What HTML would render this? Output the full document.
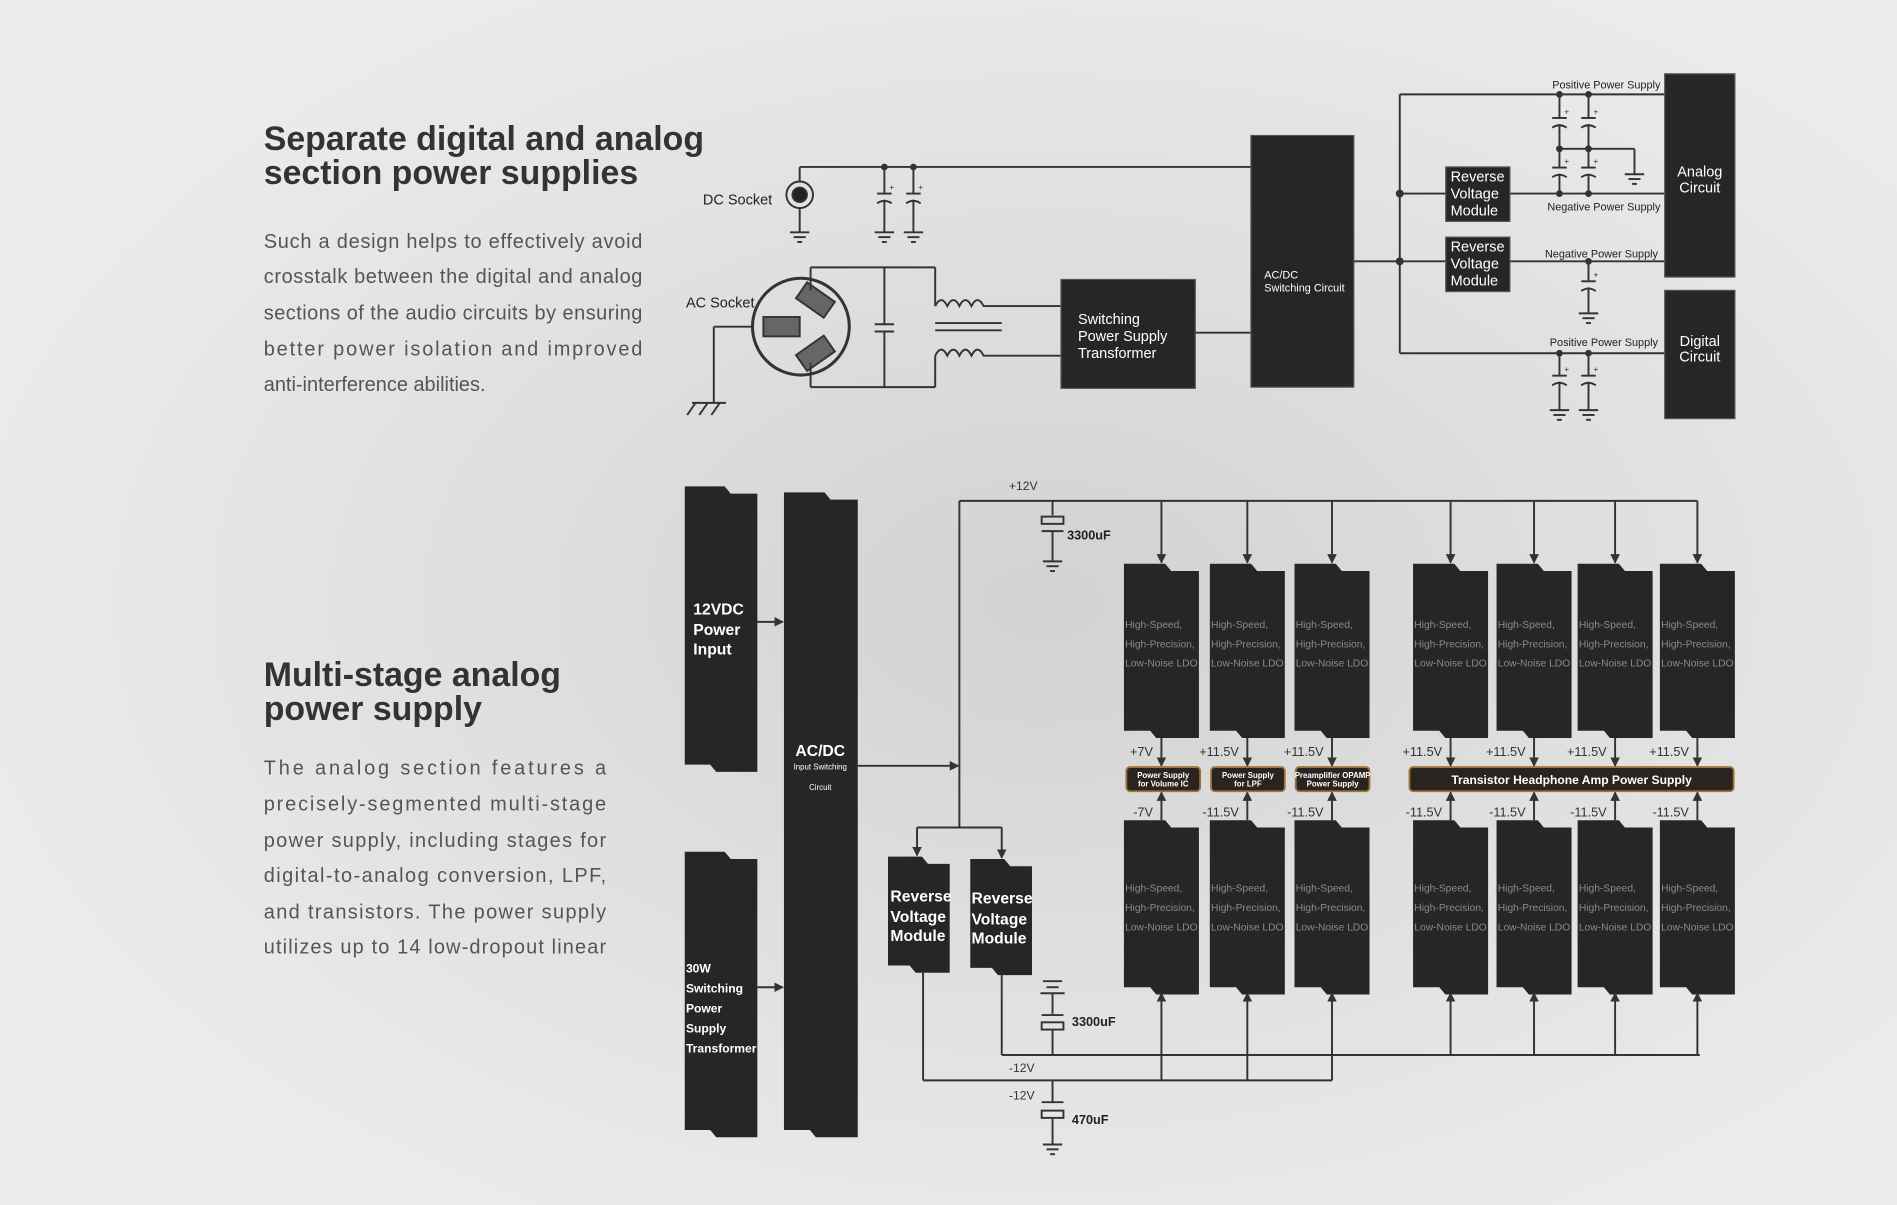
<!DOCTYPE html>
<html><head><meta charset="utf-8"><style>
html,body{margin:0;padding:0;width:1897px;height:1205px;overflow:hidden;background:#e9e9e9;}
svg{display:block}
</style></head><body>
<svg id="s" width="1897" height="1205" viewBox="0 0 1568 996" xmlns="http://www.w3.org/2000/svg" font-family="Liberation Sans, sans-serif">
<defs>
<radialGradient id="bg" cx="0.55" cy="0.5" r="0.6">
<stop offset="0" stop-color="#d2d2d2"/><stop offset="0.6" stop-color="#e2e2e2"/><stop offset="1" stop-color="#ececec"/>
</radialGradient>
<marker id="ar" markerWidth="8" markerHeight="8" refX="7" refY="4" orient="auto" markerUnits="userSpaceOnUse"><path d="M0,0L8,4L0,8z" fill="#333"/></marker>
</defs>
<rect width="1568" height="996" fill="url(#bg)"/>
<g fill="#333" font-weight="bold">
<text x="218" y="124" font-size="28">Separate digital and analog</text>
<text x="218" y="152" font-size="28">section power supplies</text>
<text x="218" y="567" font-size="28">Multi-stage analog</text>
<text x="218" y="595" font-size="28">power supply</text>
</g>
<g fill="#555" font-size="16.5">
<text x="218" y="205" textLength="313">Such a design helps to effectively avoid</text>
<text x="218" y="234" textLength="313">crosstalk between the digital and analog</text>
<text x="218" y="264" textLength="313">sections of the audio circuits by ensuring</text>
<text x="218" y="294" textLength="313">better power isolation and improved</text>
<text x="218" y="323">anti-interference abilities.</text>
<text x="218" y="640" textLength="283">The analog section features a</text>
<text x="218" y="670" textLength="283">precisely-segmented multi-stage</text>
<text x="218" y="700" textLength="283">power supply, including stages for</text>
<text x="218" y="729" textLength="283">digital-to-analog conversion, LPF,</text>
<text x="218" y="759" textLength="283">and transistors. The power supply</text>
<text x="218" y="788" textLength="283">utilizes up to 14 low-dropout linear</text>
</g>
<g id="top" stroke="#333" stroke-width="1.6" fill="none"></g>
<g id="bot" stroke="#333" stroke-width="1.6" fill="none"></g>
<g id="tx"></g>
</svg>
<script>
var T=document.getElementById('top'),B=document.getElementById('bot'),X=document.getElementById('tx');
function L(g,s){g.insertAdjacentHTML('beforeend',s);}
function ln(g,x1,y1,x2,y2,a){L(g,'<line x1="'+x1+'" y1="'+y1+'" x2="'+x2+'" y2="'+y2+'"'+(a?' marker-end="url(#ar)"':'')+'/>');}
function rect(g,x,y,w,h){L(g,'<rect x="'+x+'" y="'+y+'" width="'+w+'" height="'+h+'" fill="#262626" stroke="#555" stroke-width="1"/>');}
function nb(x,y,w,h){var a=x+w*0.55,b=x+w*0.35;L(B,'<path d="M'+x+','+y+'L'+a+','+y+'L'+(a+5)+','+(y+6)+'L'+(x+w)+','+(y+6)+'L'+(x+w)+','+(y+h)+'L'+(b+5)+','+(y+h)+'L'+b+','+(y+h-6)+'L'+x+','+(y+h-6)+'Z" fill="#262626" stroke="none"/>');}
function t(x,y,s,sz,c,w,anc){L(X,'<text x="'+x+'" y="'+y+'" font-size="'+sz+'" fill="'+(c||'#222')+'"'+(w?' font-weight="bold"':'')+(anc?' text-anchor="'+anc+'"':'')+'>'+s+'</text>');}
function gnd(g,x,y){ln(g,x,y,x,y+4);ln(g,x-8,y+4,x+8,y+4);ln(g,x-5,y+8,x+5,y+8);ln(g,x-2,y+12,x+2,y+12);}
function cap(g,x,y1,y2){var m=(y1+y2)/2;ln(g,x,y1,x,m-3);ln(g,x-6,m-3,x+6,m-3);L(g,'<path d="M'+(x-6)+','+(m+5)+'Q'+x+','+(m+1)+' '+(x+6)+','+(m+5)+'"/>');ln(g,x,m+2,x,y2);t(x+4,m-6,'+',7,'#333');}
// TOP DIAGRAM
ln(T,661,150,661,138);ln(T,661,138,1034,138);
L(T,'<circle cx="661" cy="161" r="11"/><circle cx="661" cy="161" r="6" fill="#222"/>');
ln(T,661,172,661,188);gnd(T,661,188);
[731,755].forEach(function(x){L(T,'<circle cx="'+x+'" cy="138" r="2" fill="#333"/>');cap(T,x,138,188);gnd(T,x,188);});
t(581,169,'DC Socket',12);t(567,254,'AC Socket',12);
L(T,'<circle cx="662" cy="270" r="40" stroke-width="2.5"/>');
L(T,'<rect x="631" y="262" width="30" height="16" fill="#666" stroke="#333"/>');
L(T,'<rect x="660" y="240" width="28" height="16" fill="#666" stroke="#333" transform="rotate(35 674 248)"/>');
L(T,'<rect x="660" y="284" width="28" height="16" fill="#666" stroke="#333" transform="rotate(-35 674 292)"/>');
ln(T,622,270,590,270);ln(T,590,270,590,333);ln(T,572,333,600,333);
[575,585,595].forEach(function(x){ln(T,x,333,x-7,343);});
ln(T,670,221,773,221);ln(T,670,320,773,320);ln(T,670,221,670,240);ln(T,670,300,670,320);
ln(T,731,221,731,268);ln(T,723,268,739,268);ln(T,723,274,739,274);ln(T,731,274,731,320);
ln(T,773,221,773,253);ln(T,773,320,773,294);
L(T,'<path d="M773,253 q5,-10 10,0 q5,-10 10,0 q5,-10 10,0 q5,-10 10,0 L828,253 L877,253"/>');
L(T,'<path d="M773,294 q5,-10 10,0 q5,-10 10,0 q5,-10 10,0 q5,-10 10,0 L828,294 L877,294"/>');
ln(T,773,267,828,267);ln(T,773,273,828,273);
rect(T,877,231,111,90);t(891,268,'Switching',12,'#fff');t(891,282,'Power Supply',12,'#fff');t(891,296,'Transformer',12,'#fff');
ln(T,988,275,1034,275);
rect(T,1034,112,85,208);t(1045,230,'AC/DC',9,'#fff');t(1045,241,'Switching Circuit',9,'#fff');
ln(T,1119,216,1157,216);ln(T,1157,78,1157,292);
L(T,'<circle cx="1157" cy="160" r="2.5" fill="#333"/><circle cx="1157" cy="216" r="2.5" fill="#333"/>');
ln(T,1157,78,1376,78);ln(T,1157,160,1195,160);ln(T,1248,160,1376,160);ln(T,1157,216,1195,216);ln(T,1248,216,1376,216);ln(T,1157,292,1376,292);
rect(T,1195,138,53,45);rect(T,1195,196,53,45);
[[1195,138],[1195,196]].forEach(function(p){t(p[0]+4,p[1]+12,'Reverse',12,'#fff');t(p[0]+4,p[1]+26,'Voltage',12,'#fff');t(p[0]+4,p[1]+40,'Module',12,'#fff');});
[1289,1313].forEach(function(x){cap(T,x,78,123);cap(T,x,123,160);L(T,'<circle cx="'+x+'" cy="78" r="2" fill="#333"/><circle cx="'+x+'" cy="160" r="2" fill="#333"/><circle cx="'+x+'" cy="123" r="2" fill="#333"/>');cap(T,x,292,335);gnd(T,x,335);L(T,'<circle cx="'+x+'" cy="292" r="2" fill="#333"/>');});
ln(T,1289,123,1351,123);ln(T,1351,123,1351,140);gnd(T,1351,140);
cap(T,1313,216,255);gnd(T,1313,255);L(T,'<circle cx="1313" cy="216" r="2" fill="#333"/>');
t(1283,73,'Positive Power Supply',9);t(1279,174,'Negative Power Supply',9);t(1277,213,'Negative Power Supply',9);t(1281,286,'Positive Power Supply',9);
rect(T,1376,61,58,168);rect(T,1376,240,58,106);
t(1405,146,'Analog',12,'#fff',0,'middle');t(1405,159,'Circuit',12,'#fff',0,'middle');
t(1405,286,'Digital',12,'#fff',0,'middle');t(1405,299,'Circuit',12,'#fff',0,'middle');
// BOTTOM DIAGRAM
nb(566,402,60,236);nb(566,704,60,236);nb(648,407,61,533);
t(573,508,'12VDC',13,'#fff',1);t(573,525,'Power',13,'#fff',1);t(573,541,'Input',13,'#fff',1);
['30W','Switching','Power','Supply','Transformer'].forEach(function(s,i){t(567,804+i*16.5,s,10,'#fff',1);});
t(678,625,'AC/DC',13,'#fff',1,'middle');t(678,636,'Input Switching',6.5,'#fff',0,'middle');t(678,653,'Circuit',6.5,'#fff',0,'middle');
ln(B,626,514,647,514,1);ln(B,626,816,647,816,1);ln(B,709,633,792,633,1);
ln(B,793,414,793,684);ln(B,793,414,1403,414);t(834,405,'+12V',10,'#333');
ln(B,870,414,870,426);L(B,'<rect x="861" y="427" width="18" height="6" fill="none"/>');ln(B,861,439,879,439);ln(B,870,439,870,460);gnd(B,870,460);t(882,446,'3300uF',10.5,'#222',1);
ln(B,758,684,828,684);ln(B,758,684,758,707,1);ln(B,828,684,828,709,1);
nb(734,708,51,96);nb(802,710,51,96);
t(736,745,'Reverse',13,'#fff',1);t(736,762,'Voltage',13,'#fff',1);t(736,778,'Module',13,'#fff',1);
t(803,747,'Reverse',13,'#fff',1);t(803,764,'Voltage',13,'#fff',1);t(803,780,'Module',13,'#fff',1);
var cols=[960,1031,1101,1199,1268,1335,1403];
var up=['+7V','+11.5V','+11.5V','+11.5V','+11.5V','+11.5V','+11.5V'],dn=['-7V','-11.5V','-11.5V','-11.5V','-11.5V','-11.5V','-11.5V'];
cols.forEach(function(c,i){var x=c-31;
ln(B,c,414,c,465,1);nb(x,466,62,144);nb(x,678,62,144);
[['High-Speed,',516],['High-Precision,',532],['Low-Noise LDO',548]].forEach(function(r){t(x+1,r[1]+3,r[0],8.5,'#8a8a8a');});
[['High-Speed,',734],['High-Precision,',750],['Low-Noise LDO',766]].forEach(function(r){t(x+1,r[1]+3,r[0],8.5,'#8a8a8a');});
ln(B,c,610,c,633,1);ln(B,c,678,c,655,1);
t(c-7,625,up[i],10.5,'#333',0,'end');t(c-7,675,dn[i],10.5,'#333',0,'end');
var by=i<3?893:872;ln(B,c,by,c,821,1);});
function lab(x,w,a,b){L(B,'<rect x="'+x+'" y="634" width="'+w+'" height="20" rx="3" fill="#2a2420" stroke="#a0743a" stroke-width="1.5"/>');if(b){t(x+w/2,643,a,6.5,'#fff',1,'middle');t(x+w/2,650,b,6.5,'#fff',1,'middle');}else t(x+w/2,648,a,10,'#fff',1,'middle');}
lab(931,61,'Power Supply','for Volume IC');lab(1001,61,'Power Supply','for LPF');lab(1071,61,'Preamplifier OPAMP','Power Supply');lab(1165,268,'Transistor Headphone Amp Power Supply');
ln(B,828,806,828,872);ln(B,828,872,1405,872);ln(B,763,804,763,893);ln(B,763,893,1101,893);
ln(B,862,811,878,811);ln(B,865,816,875,816);ln(B,860,821,880,821);ln(B,870,821,870,838);L(B,'<rect x="861" y="845" width="18" height="6" fill="none"/>');ln(B,861,839,879,839);ln(B,870,851,870,872);t(886,848,'3300uF',10.5,'#222',1);
t(834,886,'-12V',10,'#333');t(834,909,'-12V',10,'#333');
ln(B,870,893,870,911);ln(B,861,911,879,911);L(B,'<rect x="861" y="918" width="18" height="6" fill="none"/>');ln(B,870,924,870,942);gnd(B,870,942);t(886,929,'470uF',10.5,'#222',1);
</script>
</body></html>
